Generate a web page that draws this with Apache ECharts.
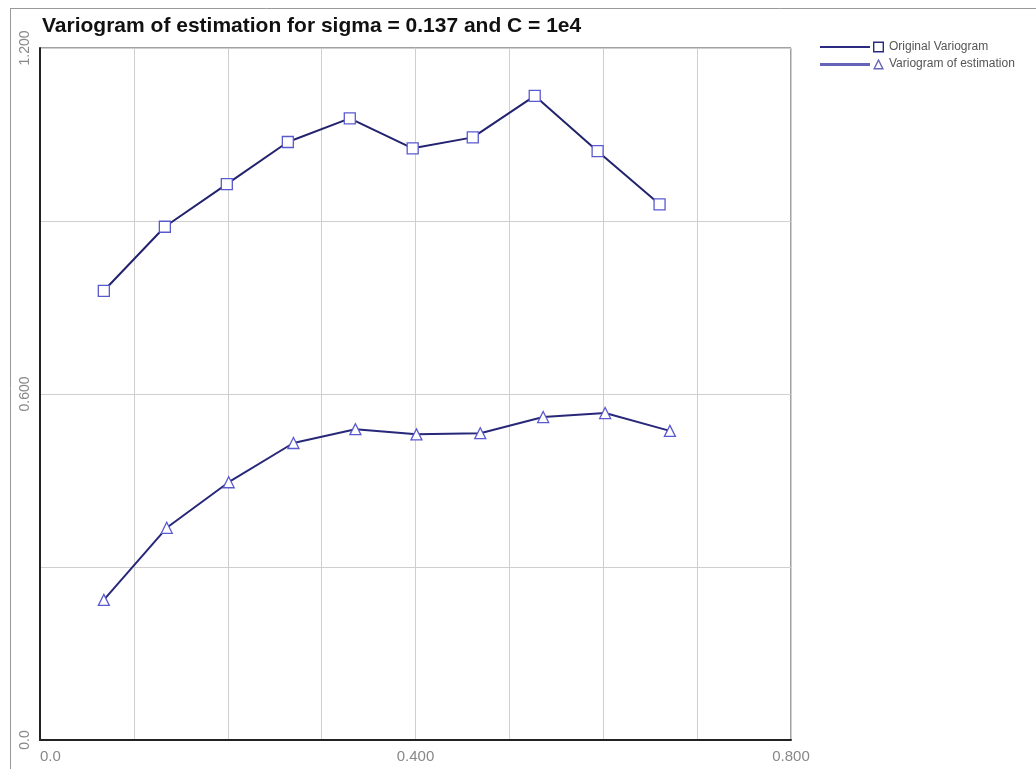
<!DOCTYPE html>
<html>
<head>
<meta charset="utf-8">
<script src="https://cdn.jsdelivr.net/npm/echarts@6/dist/echarts.min.js"></script>
<style>
html,body{margin:0;padding:0;background:#fff;}
#chart{width:1036px;height:769px;}
</style>
</head>
<body>
<div id="chart"></div>
<script>
const titleText = 'Variogram of estimation for sigma = 0.137 and C = 1e4';
const seriesNames = ['Original Variogram', 'Variogram of estimation'];
const originalX = [0.068, 0.133, 0.199, 0.264, 0.330, 0.397, 0.461, 0.527, 0.594, 0.660];
const originalY = [0.779, 0.890, 0.964, 1.037, 1.078, 1.026, 1.045, 1.117, 1.021, 0.929];
const estimX = [0.068, 0.135, 0.201, 0.270, 0.336, 0.401, 0.469, 0.536, 0.602, 0.671];
const estimY = [0.243, 0.368, 0.447, 0.515, 0.539, 0.530, 0.532, 0.560, 0.567, 0.536];
const xTickValues = [0, 0.4, 0.8];
const xTickLabels = ['0.0', '0.400', '0.800'];
const yTickValues = [0, 0.6, 1.2];
const yTickLabels = ['0.0', '0.600', '1.200'];

function pick(values, labels, v) {
  for (let i = 0; i < values.length; i++) {
    if (Math.abs(values[i] - v) < 1e-6) return labels[i];
  }
  return '';
}

// legend icons: line segment followed by a hollow marker (64 x 12 box)
const iconSquare = 'path://M0,5 L50,5 L50,7 L0,7 Z ' +
  'M53,0.5 L64,0.5 L64,11.5 L53,11.5 Z M54.4,1.9 L54.4,10.1 L62.6,10.1 L62.6,1.9 Z';
const iconTriangle = 'path://M0,5 L50,5 L50,8 L0,8 Z ' +
  'M58.5,0.5 L64,11.5 L53,11.5 Z M58.5,3.4 L55.3,10.1 L61.7,10.1 Z';

const chart = echarts.init(document.getElementById('chart'), null, {renderer: 'canvas'});
chart.setOption({
  backgroundColor: '#ffffff',
  animation: false,
  title: {
    text: titleText,
    left: 37, top: 11,
    textStyle: {fontFamily: 'Liberation Sans', fontSize: 21, fontWeight: 'bold', color: '#111'}
  },
  legend: {
    orient: 'vertical',
    left: 815, top: 36,
    itemWidth: 64, itemHeight: 12, itemGap: 5,
    textStyle: {fontFamily: 'Liberation Sans', fontSize: 12, color: '#555'},
    data: [
      {name: seriesNames[0], icon: iconSquare,
       itemStyle: {color: '#2a2a80', borderColor: '#2a2a80', borderWidth: 0}},
      {name: seriesNames[1], icon: iconTriangle,
       itemStyle: {color: '#6464b8', borderColor: '#6464b8', borderWidth: 0}}
    ]
  },
  grid: {
    left: 40, right: 245, top: 48, bottom: 29,
    show: true, borderColor: '#444', borderWidth: 1
  },
  xAxis: {
    type: 'value', min: 0, max: 0.8, interval: 0.1,
    axisLine: {show: true, lineStyle: {color: '#222', width: 2}},
    axisTick: {show: false},
    splitLine: {show: true, lineStyle: {color: '#cfcfcf', width: 1}},
    axisLabel: {
      margin: 9, fontFamily: 'Liberation Sans', fontSize: 15, color: '#888',
      alignMinLabel: 'left',
      formatter: v => pick(xTickValues, xTickLabels, v)
    }
  },
  yAxis: {
    type: 'value', min: 0, max: 1.2, interval: 0.3,
    axisLine: {show: true, lineStyle: {color: '#222', width: 2}},
    axisTick: {show: false},
    splitLine: {show: true, lineStyle: {color: '#cfcfcf', width: 1}},
    axisLabel: {
      rotate: 90, margin: 8, fontFamily: 'Liberation Sans', fontSize: 14, color: '#888',
      formatter: v => pick(yTickValues, yTickLabels, v)
    }
  },
  graphic: [
    {type: 'line', shape: {x1: 10.5, y1: 8, x2: 10.5, y2: 769}, style: {stroke: '#999', lineWidth: 1}},
    {type: 'line', shape: {x1: 10, y1: 8.5, x2: 1036, y2: 8.5}, style: {stroke: '#999', lineWidth: 1}}
  ],
  series: [
    {
      name: seriesNames[0], type: 'line',
      data: originalX.map((x, i) => [x, originalY[i]]),
      symbol: 'rect', symbolSize: 11,
      lineStyle: {color: '#22226e', width: 2},
      itemStyle: {color: '#ffffff', borderColor: '#5a5ad0', borderWidth: 1.3},
      emphasis: {disabled: true}
    },
    {
      name: seriesNames[1], type: 'line',
      data: estimX.map((x, i) => [x, estimY[i]]),
      symbol: 'triangle', symbolSize: 11,
      lineStyle: {color: '#28287a', width: 2},
      itemStyle: {color: '#ffffff', borderColor: '#5a5ad0', borderWidth: 1.3},
      emphasis: {disabled: true}
    }
  ]
});
</script>
</body>
</html>
